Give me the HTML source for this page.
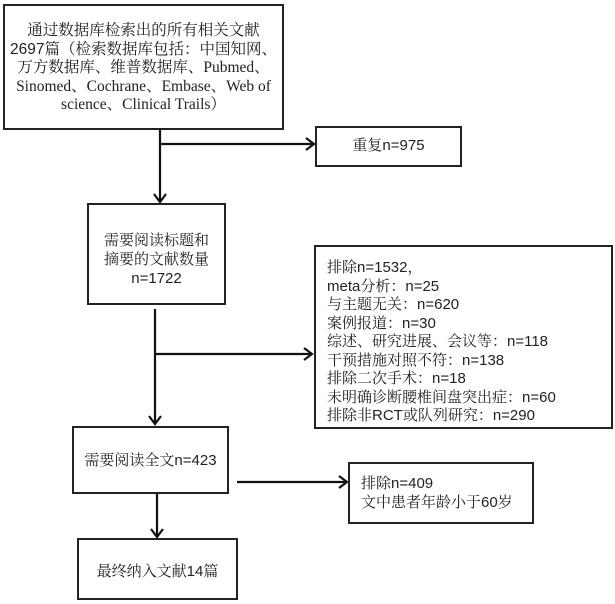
<!DOCTYPE html>
<html><head><meta charset="utf-8"><style>
body{margin:0;width:615px;height:604px;background:#fff;position:relative;overflow:hidden;font-family:"Liberation Sans","Noto Serif CJK SC",serif;color:#222}
.b{position:absolute;border:2px solid #222;box-sizing:border-box;background:#fff}
.t{position:absolute;white-space:nowrap;font-size:15px;line-height:18.5px}
svg{position:absolute;left:0;top:0}
</style></head><body>
<svg width="615" height="604">
<g stroke="#111" stroke-width="2.2" fill="none">
<line x1="160" y1="128" x2="160" y2="202"/><polyline points="154,194 160,202 166,194"/>
<line x1="160" y1="144" x2="314" y2="144"/><polyline points="306,138 314,144 306,150"/>
<line x1="155" y1="309" x2="155" y2="424"/><polyline points="149,416 155,424 161,416"/>
<line x1="155" y1="354" x2="312" y2="354"/><polyline points="304,348 312,354 304,360"/>
<line x1="157" y1="492" x2="157" y2="537"/><polyline points="151,529 157,537 163,529"/>
<line x1="237" y1="482" x2="347" y2="482"/><polyline points="339,476 347,482 339,488"/>
</g></svg>
<div class="b" style="left:3px;top:4px;width:281px;height:126px"></div>
<div class="t" style="left:3px;top:22px;width:281px;text-align:center;font-family:'Liberation Serif','Noto Serif CJK SC',serif;font-size:15.5px;line-height:18.5px">通过数据库检索出的所有相关文献<br><span style="font-family:'Liberation Sans','Noto Serif CJK SC',sans-serif">2697</span>篇（检索数据库包括：中国知网、<br>万方数据库、维普数据库、Pubmed、<br>Sinomed、Cochrane、Embase、Web of<br>science、Clinical Trails）</div>
<div class="b" style="left:315px;top:126px;width:147px;height:41px"></div>
<div class="t" style="left:315px;top:137px;width:147px;text-align:center">重复n=975</div>
<div class="b" style="left:87px;top:203px;width:139px;height:102px"></div>
<div class="t" style="left:87px;top:231px;width:139px;text-align:center;line-height:19px">需要阅读标题和<br>摘要的文献数量<br>n=1722</div>
<div class="b" style="left:314px;top:245px;width:299px;height:184px"></div>
<div class="t" style="left:327px;top:259px">排除n=1532，<br>meta分析：n=25<br>与主题无关：n=620<br>案例报道：n=30<br>综述、研究进展、会议等：n=118<br>干预措施对照不符：n=138<br>排除二次手术：n=18<br>未明确诊断腰椎间盘突出症：n=60<br>排除非RCT或队列研究：n=290</div>
<div class="b" style="left:72px;top:426px;width:157px;height:68px"></div>
<div class="t" style="left:72px;top:461px;width:157px;text-align:center;top:461px;transform:translateY(-9px)">需要阅读全文n=423</div>
<div class="b" style="left:348px;top:462px;width:186px;height:62px"></div>
<div class="t" style="left:361px;top:483px;transform:translateY(-9px);line-height:19px">排除n=409<br>文中患者年龄小于60岁</div>
<div class="b" style="left:77px;top:538px;width:161px;height:62px"></div>
<div class="t" style="left:77px;top:572px;width:161px;text-align:center;transform:translateY(-9px)">最终纳入文献14篇</div>
</body></html>
